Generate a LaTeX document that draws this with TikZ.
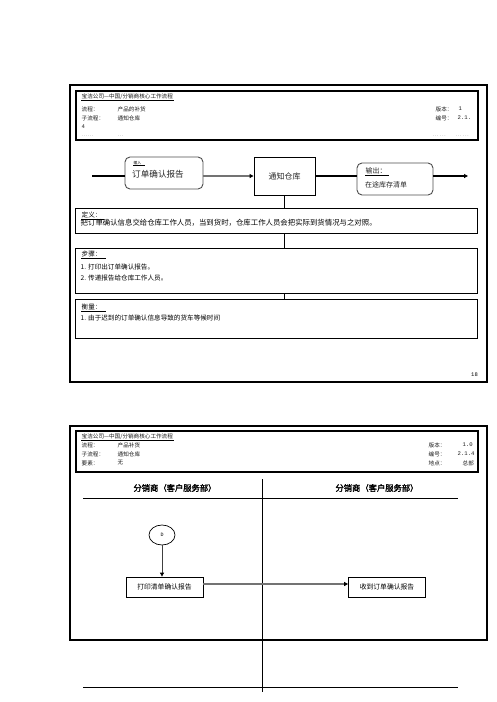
\documentclass[tikz,border=0pt]{standalone}
\usepackage{fontspec}
\setmainfont{Noto Sans CJK SC}[AutoFakeBold=2]
\newfontfamily\monofont{Liberation Mono}
\usetikzlibrary{arrows.meta,shapes.geometric}

\begin{document}
\begin{tikzpicture}
        [x=1pt,y=-1pt,
         hdr/.style={anchor=west,inner sep=0.5pt,font=\fontsize{5.6}{6}\selectfont,text=black!90},
         txt/.style={anchor=west,inner sep=0.5pt,font=\fontsize{6.6}{7}\selectfont,text=black},
         frame/.style={line width=1.1pt},
         infobox/.style={draw,line width=1.1pt,anchor=north west,minimum width=402,inner sep=0pt},
         flowbox/.style={draw,line width=0.9pt,inner sep=0pt},
         lanebox/.style={draw,line width=0.8pt,minimum width=77,minimum height=20,inner sep=0pt,
                         font=\fontsize{6.8}{7}\selectfont,text=black},
         tip/.style={-{Triangle[length=4pt,width=4pt,color=black]}}]
        \useasboundingbox (0,0) rectangle (496,702);

        \draw[frame] (70,85) rectangle (487,382);
        \draw[frame] (76,91) rectangle (478,140);

        \node[hdr] (ttlA) at (81,97) {宝洁公司—中国/分销商核心工作流程};
        \draw[thin] (ttlA.south west) -- (ttlA.south east);
        \node[hdr] (a1) at (81,109) {流程：};
        \node[hdr] (a2) at (117,109) {产品的补货};
        \node[hdr] (a3) at (435,109) {版本：};
        \node[hdr] (a4) at (458,109) {\monofont 1};
        \node[hdr] (a5) at (81,118) {子流程：};
        \node[hdr] (a6) at (117,118) {通知仓库};
        \node[hdr] (a7) at (435,118) {编号：};
        \node[hdr] (a8) at (457,118) {\monofont 2.1.};
        \node[hdr] (a9) at (81,127) {\monofont 4};
        \node[hdr,text=black!40] (a10) at (81,136) {……};
        \node[hdr,text=black!40] (a11) at (117,136) {…};
        \node[hdr,text=black!40] (a12) at (432,136) {… …};
        \node[hdr,text=black!40] (a13) at (455,136) {… …};

        \coordinate (fstart) at (92,176);
        \coordinate (fend) at (468,176);
        \node[flowbox,draw=black!70,rounded corners=5pt,minimum width=78,minimum height=32] (inp) at (164,173) {};
        \node[anchor=west,inner sep=0.3pt,font=\fontsize{3.8}{4}\selectfont] (inpT) at (133,163) {输入};
        \draw[thin] (inpT.south west) -- ([xshift=3pt]inpT.south east);
        \node[anchor=west,inner sep=0pt,font=\fontsize{8.6}{9}\selectfont,text=black!85] (inpL) at (132,174) {订单确认报告};
        \node[flowbox,minimum width=61,minimum height=38,font=\fontsize{8}{9}\selectfont,text=black!85] (wh) at (284.5,176) {通知仓库};
        \node[flowbox,draw=black!70,rounded corners=5pt,minimum width=76,minimum height=32] (outp) at (395,179) {};
        \node[anchor=west,inner sep=0.4pt,font=\fontsize{7}{7}\selectfont,text=black!85] (outT) at (365,171) {输出：};
        \draw[thin] (outT.south west) -- ([xshift=2pt]outT.south east);
        \node[anchor=west,inner sep=0pt,font=\fontsize{7}{7}\selectfont,text=black!85] (outL) at (365,185) {在途库存清单};

        \draw[line width=1.3pt] (fstart) -- (fstart -| inp.west);
        \draw[line width=1.3pt,draw=black!55,tip] (inp.east |- fstart) -- (fstart -| wh.west);
        \draw[line width=1.3pt] (wh.east |- fstart) -- (fstart -| outp.west);
        \draw[line width=1.3pt,tip] (outp.east |- fstart) -- (fend);

        \node[infobox,minimum height=25] (def) at (75,208) {};
        \node[infobox,minimum height=45] (steps) at (75,248) {};
        \node[infobox,minimum height=39] (meas) at (75,299) {};
        \draw[line width=1.6pt] (wh.south) -- (def.north -| wh.south);
        \draw[line width=1.6pt] (def.south -| wh.south) -- (steps.north -| wh.south);
        \draw[line width=1.6pt] (steps.south -| wh.south) -- (meas.north -| wh.south);

        \node[txt] (defT) at (81,215) {定义：};
        \draw[thin] (defT.south west) -- ([xshift=2pt]defT.south east);
        \node[txt,font=\fontsize{7.4}{8}\selectfont] (defL) at (80,223) {把订单确认信息交给仓库工作人员，当到货时，仓库工作人员会把实际到货情况与之对照。};
        \node[txt] (stT) at (81,254) {步骤：};
        \draw[thin] (stT.south west) -- ([xshift=4pt]stT.south east);
        \node[txt] (st1) at (80,267) {1. 打印出订单确认报告。};
        \node[txt] (st2) at (80,278) {2. 传递报告给仓库工作人员。};
        \node[txt] (msT) at (81,307) {衡量：};
        \draw[thin] (msT.south west) -- ([xshift=4pt]msT.south east);
        \node[txt] (ms1) at (80,318) {1. 由于迟到的订单确认信息导致的货车等候时间};
        \node[anchor=east,inner sep=0pt,font=\monofont\fontsize{5.5}{6}\selectfont] (pg) at (478,375) {18};

        \draw[frame] (70,426) rectangle (487,640);
        \draw[frame] (76,431) rectangle (478,472);

        \node[hdr] (ttlB) at (81,437) {宝洁公司—中国/分销商核心工作流程};
        \draw[thin] (ttlB.south west) -- (ttlB.south east);
        \node[hdr] (b1) at (81,445) {流程：};
        \node[hdr] (b2) at (117,445) {产品补货};
        \node[hdr] (b3) at (428,445) {版本：};
        \node[hdr] (b4) at (462,445) {\monofont 1.0};
        \node[hdr] (b5) at (81,454) {子流程：};
        \node[hdr] (b6) at (117,454) {通知仓库};
        \node[hdr] (b7) at (428,454) {编号：};
        \node[hdr] (b8) at (457,454) {\monofont 2.1.4};
        \node[hdr] (b9) at (81,463) {要素：};
        \node[hdr] (b10) at (117,463) {无};
        \node[hdr] (b11) at (428,463) {地点：};
        \node[hdr] (b12) at (462,463) {总部};

        \coordinate (laneT) at (262,479);
        \coordinate (laneB) at (262,692);
        \coordinate (hlA) at (83,498);
        \coordinate (hlB) at (458,498);
        \coordinate (blA) at (83,687);
        \coordinate (blB) at (458,687);
        \draw[line width=0.8pt] (laneT) -- (laneB);
        \draw[line width=0.8pt] (hlA) -- (hlB);
        \draw[line width=0.8pt] (blA) -- (blB);
        \node[font=\bfseries\fontsize{8.3}{9}\selectfont] (laneL) at (175,488) {分销商（客户服务部）};
        \node[font=\bfseries\fontsize{8.3}{9}\selectfont] (laneR) at (377,488) {分销商（客户服务部）};

        \node[draw,ellipse,line width=0.7pt,minimum width=26,minimum height=20,inner sep=0pt,
              font=\monofont\fontsize{5}{5}\selectfont] (D) at (162,535) {D};
        \node[lanebox] (pr) at (164.5,587) {打印清单确认报告};
        \node[lanebox] (rc) at (387,587) {收到订单确认报告};
        \draw[line width=0.8pt,draw=black!75,tip] (D) -- (D |- pr.north);
        \draw[line width=1.4pt,draw=black!55,tip] ([yshift=3pt]pr.east) -- ([yshift=3pt]rc.west);
      \end{tikzpicture}
\end{document}
